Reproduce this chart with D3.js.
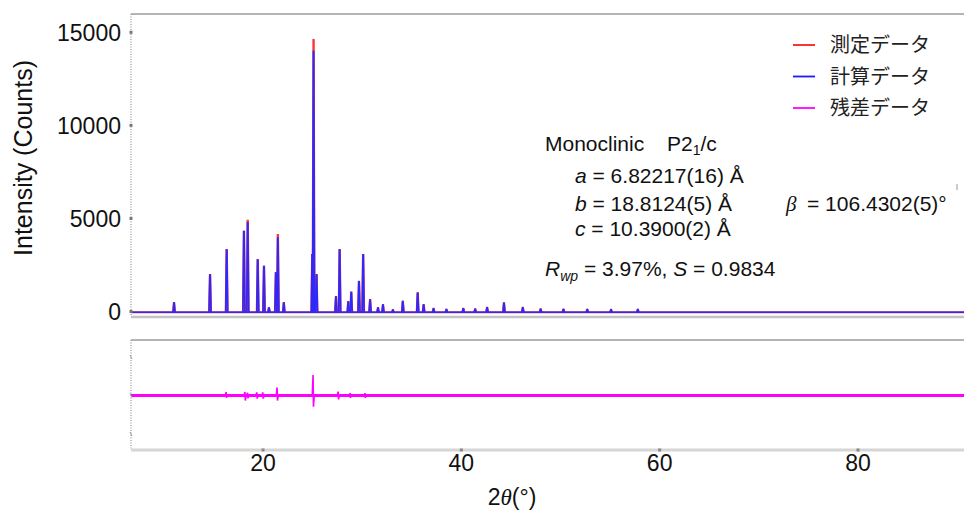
<!DOCTYPE html>
<html>
<head>
<meta charset="utf-8">
<script src="https://cdn.jsdelivr.net/npm/d3@7"></script>
<style>
  body { margin: 0; background: #fff; }
  svg { display: block; font-family: "Liberation Sans", Arial, sans-serif; }
</style>
</head>
<body>
<div id="chart"></div>
<script>
// tick values
const xTicks = [20, 40, 60, 80];
const yTicks = [0, 5000, 10000, 15000];
const resTicks = [-1000, 0, 1000];

// background level of the pattern
const bgTheta = [6.69, 90.69];
const bgLevel = [-40, -40];

const peakTheta = [11.03, 14.66, 16.34, 18.08, 18.46, 19.47, 20.1, 20.6, 21.3, 21.5, 22.1,
                   24.97, 25.1, 25.4, 27.36, 27.73, 28.6, 28.9, 29.68, 30.1, 30.8, 31.6, 32.1,
                   33.1, 34.1, 35.6, 36.2, 37.2, 38.5, 40.2, 41.4, 42.6, 44.3, 46.2, 48.0,
                   50.3, 52.7, 55.1, 57.8];
const peakObs = [460, 1960, 3300, 4290, 4880, 2770, 2410, 190, 2070, 4110, 460,
                 3040, 14590, 1960, 780, 3300, 510, 1020, 1600, 3040, 620, 190, 350,
                 80, 530, 980, 350, 150, 100, 150, 120, 200, 440, 200, 120,
                 110, 100, 90, 100];
const peakCalc = [460, 1960, 3300, 4290, 4760, 2770, 2410, 190, 2070, 3950, 460,
                  3040, 13960, 1960, 780, 3300, 510, 1020, 1600, 3040, 620, 190, 350,
                  80, 530, 980, 350, 150, 100, 150, 120, 200, 440, 200, 120,
                  110, 100, 90, 100];

// residual spikes
const resTheta = [16.3, 18.2, 18.46, 19.4, 20.0, 21.44, 25.07, 27.6, 28.8, 30.3];
const resUp    = [90, 90, 70, 80, 80, 210, 530, 100, 60, 60];
const resDown  = [-60, -130, -70, -80, -80, -130, -290, -100, -60, -60];

const legendLabels = ["測定データ", "計算データ", "残差データ"];
const legendColors = ["#ff1a1a", "#1a1aff", "#ff00ff"];

var width = 964, height = 511;
var svg = d3.select("#chart").append("svg")
            .attr("width", width)
            .attr("height", height);

var left = 131, right = 964;
var topY0 = 14, topY1 = 316;
var botY0 = 340, botY1 = 450;

var x = d3.scaleLinear().domain([6.69, 90.69]).range([left, right]);
var y = d3.scaleLinear().domain([-242, 15983]).range([topY1, topY0]);
var yr = d3.scaleLinear().domain([-1000, 1000]).range([434, 357]);

var defs = svg.append("defs");
defs.append("clipPath").attr("id", "clipTop").append("rect")
    .attr("x", left).attr("y", topY0).attr("width", right - left).attr("height", topY1 - topY0);
defs.append("clipPath").attr("id", "clipBot").append("rect")
    .attr("x", left).attr("y", botY0).attr("width", right - left).attr("height", botY1 - botY0);

// panel frames
function frame(y0, y1) {
    svg.append("line").attr("x1", left).attr("x2", right).attr("y1", y0).attr("y2", y0)
       .attr("stroke", "#b4b4b4").attr("stroke-width", 2);
    svg.append("line").attr("x1", left).attr("x2", left).attr("y1", y0).attr("y2", y1)
       .attr("stroke", "#a8a8a8").attr("stroke-width", 1.5).attr("stroke-dasharray", "1,1.5");
}
frame(topY0, topY1);
frame(botY0, botY1);
svg.append("line").attr("x1", left).attr("x2", right).attr("y1", topY1 + 1).attr("y2", topY1 + 1)
   .attr("stroke", "#c4c4c4").attr("stroke-width", 2.5);
svg.append("line").attr("x1", left).attr("x2", right).attr("y1", botY1).attr("y2", botY1)
   .attr("stroke", "#d6d6d6").attr("stroke-width", 3);

// pattern
var line = d3.line().x(function(d) { return x(d[0]); }).y(function(d) { return y(d[1]); });
var gTop = svg.append("g").attr("clip-path", "url(#clipTop)");

function drawSeries(heights, color, w) {
    gTop.append("path")
        .attr("d", line(bgTheta.map(function(t, i) { return [t, bgLevel[i]]; })))
        .attr("fill", "none").attr("stroke", color).attr("stroke-width", w);
    gTop.selectAll(null)
        .data(peakTheta.map(function(t, i) { return [t, heights[i]]; }))
        .enter().append("path")
        .attr("d", function(d) {
            var b = bgLevel[0];
            return line([[d[0] - 0.1, b], [d[0] - 0.02, d[1]], [d[0] + 0.02, d[1]], [d[0] + 0.1, b]]);
        })
        .attr("fill", "none")
        .attr("stroke", color).attr("stroke-width", w);
}
drawSeries(peakObs, "#ff3535", 2);
drawSeries(peakCalc, "#2a2aff", 1.6);

// residual
var rline = d3.line().x(function(d) { return x(d[0]); }).y(function(d) { return yr(d[1]); });
var gBot = svg.append("g").attr("clip-path", "url(#clipBot)");
gBot.append("path")
    .attr("d", rline([[bgTheta[0], 0], [bgTheta[1], 0]]))
    .attr("stroke", "#ff00ff").attr("stroke-width", 3).attr("fill", "none");
gBot.selectAll(null)
    .data(resTheta.map(function(t, i) { return [t, resUp[i], resDown[i]]; }))
    .enter().append("path")
    .attr("d", function(d) {
        return rline([[d[0] - 0.1, 0], [d[0] - 0.02, d[1]], [d[0] + 0.02, d[2]], [d[0] + 0.1, 0]]);
    })
    .attr("fill", "none").attr("stroke", "#ff00ff").attr("stroke-width", 1.6);

// ticks
svg.selectAll(".ytickdot").data(yTicks).enter().append("rect")
   .attr("x", left - 1.5).attr("y", function(d) { return y(d) - 1.5; })
   .attr("width", 3).attr("height", 3).attr("fill", "#777");
svg.selectAll(".ylab").data(yTicks).enter().append("text")
   .attr("x", 121).attr("y", function(d) { return y(d); })
   .attr("dy", "0.36em").attr("text-anchor", "end")
   .attr("font-size", "23px").attr("fill", "#111")
   .text(function(d) { return d; });
svg.selectAll(".rtick").data(resTicks).enter().append("line")
   .attr("x1", left - 1).attr("x2", left + 1)
   .attr("y1", function(d) { return yr(d) - 2; }).attr("y2", function(d) { return yr(d) + 2; })
   .attr("stroke", "#999").attr("stroke-width", 1);
svg.selectAll(".xtickdot").data(xTicks).enter().append("rect")
   .attr("x", function(d) { return x(d) - 1.5; }).attr("y", botY1 - 1.5)
   .attr("width", 3).attr("height", 3).attr("fill", "#888");
svg.selectAll(".xlab").data(xTicks).enter().append("text")
   .attr("x", function(d) { return x(d); }).attr("y", 471)
   .attr("text-anchor", "middle").attr("font-size", "23px").attr("fill", "#111")
   .text(function(d) { return d; });

// stray mark at right edge
svg.append("line").attr("x1", 957).attr("x2", 957).attr("y1", 184).attr("y2", 190)
   .attr("stroke", "#bbb").attr("stroke-width", 1.5);

// axis titles
svg.append("text")
   .attr("transform", "translate(32,158) rotate(-90)")
   .attr("text-anchor", "middle").attr("font-size", "25px").attr("fill", "#111")
   .text("Intensity (Counts)");
var xt = svg.append("text").attr("x", 512).attr("y", 505)
   .attr("text-anchor", "middle").attr("font-size", "23px").attr("fill", "#111");
xt.append("tspan").text("2");
xt.append("tspan").attr("font-family", "'Liberation Serif', serif").attr("font-style", "italic").text("θ");
xt.append("tspan").text("(°)");

// legend
var lg = svg.append("g");
legendLabels.forEach(function(lbl, i) {
    var ly = 45 + i * 31.5;
    lg.append("line").attr("x1", 793).attr("x2", 815).attr("y1", ly).attr("y2", ly)
      .attr("stroke", legendColors[i]).attr("stroke-width", 1.8);
    lg.append("text").attr("x", 830).attr("y", ly).attr("dy", "0.36em")
      .attr("font-family", "'Noto Sans CJK JP', sans-serif")
      .attr("font-size", "20px").attr("fill", "#222").text(lbl);
});

// annotation
var fs = "21px";
var t1 = svg.append("text").attr("x", 545).attr("y", 151).attr("font-size", fs).attr("fill", "#111");
t1.append("tspan").text("Monoclinic");
t1.append("tspan").attr("x", 667).text("P2");
t1.append("tspan").attr("font-size", "14px").attr("dy", 4).text("1");
t1.append("tspan").attr("dy", -4).text("/c");

var ta = svg.append("text").attr("x", 575).attr("y", 183).attr("font-size", fs).attr("fill", "#111");
ta.append("tspan").attr("font-style", "italic").text("a");
ta.append("tspan").text(" = 6.82217(16) Å");

var tb = svg.append("text").attr("x", 575).attr("y", 211).attr("font-size", fs).attr("fill", "#111");
tb.append("tspan").attr("font-style", "italic").text("b");
tb.append("tspan").text(" = 18.8124(5) Å");
tb.append("tspan").attr("x", 786).attr("font-family", "'Liberation Serif', serif")
  .attr("font-style", "italic").text("β");
tb.append("tspan").attr("x", 807).text("= 106.4302(5)°");

var tc = svg.append("text").attr("x", 575).attr("y", 236).attr("font-size", fs).attr("fill", "#111");
tc.append("tspan").attr("font-style", "italic").text("c");
tc.append("tspan").text(" = 10.3900(2) Å");

var tr = svg.append("text").attr("x", 545).attr("y", 276).attr("font-size", fs).attr("fill", "#111");
tr.append("tspan").attr("font-style", "italic").text("R");
tr.append("tspan").attr("font-style", "italic").attr("font-size", "14px").attr("dy", 5).text("wp");
tr.append("tspan").attr("dy", -5).text(" = 3.97%, ");
tr.append("tspan").attr("font-style", "italic").text("S");
tr.append("tspan").text(" = 0.9834");
</script>
</body>
</html>
